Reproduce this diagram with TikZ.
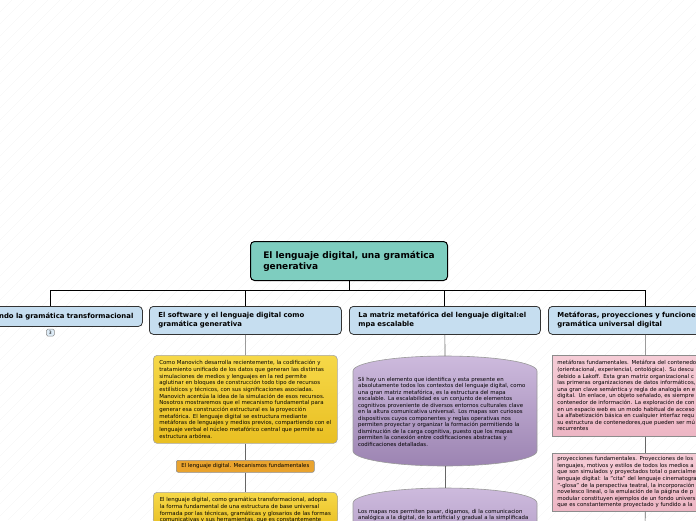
\documentclass[tikz,border=0pt]{standalone}
\usepackage{fontspec}
\setmainfont{DejaVu Sans}
\usepackage{xcolor}
\usetikzlibrary{positioning,calc}

\definecolor{rootfill}{HTML}{7ECDBF}
\definecolor{topicfill}{HTML}{C6DEF0}
\definecolor{goldtop}{HTML}{F6D848}
\definecolor{goldbot}{HTML}{E9BF22}
\definecolor{orangefill}{HTML}{E9A32E}
\definecolor{lilactop}{HTML}{CDBADD}
\definecolor{lilacbot}{HTML}{9C84B2}
\definecolor{pinktop}{HTML}{F5CCD6}
\definecolor{pinkbot}{HTML}{EDB6C4}

\begin{document}
\begin{tikzpicture}[
            x=1pt, y=-1pt,
            hatch/.style={black!6, line width=0.3pt},
            trunk/.style={black, line width=0.9pt},
            twig/.style={black!60, line width=0.6pt},
            rootbox/.style={draw=black, line width=1pt, rounded corners=4pt, fill=rootfill,
                anchor=north west, minimum width=197pt, minimum height=39pt,
                inner xsep=11pt, align=left, font=\bfseries\fontsize{9}{11}\selectfont},
            topicbox/.style={draw=black!80, line width=0.8pt, rounded corners=4pt, fill=topicfill,
                anchor=north west, minimum height=28pt, inner xsep=9pt, inner ysep=2pt,
                align=left, font=\bfseries\fontsize{6.9}{9}\selectfont},
            goldbox/.style={draw=black!35, line width=0.6pt, rounded corners=4pt,
                top color=goldtop, bottom color=goldbot, anchor=north west,
                minimum width=184pt, inner xsep=5pt, inner ysep=5pt, align=left,
                font=\fontsize{5.45}{6.7}\selectfont},
            tagbox/.style={draw=black!45, line width=0.6pt, rounded corners=2pt, fill=orangefill,
                anchor=north west, minimum width=138pt, minimum height=12pt, inner sep=1pt,
                align=center, font=\fontsize{5.4}{6}\selectfont},
            pinkbox/.style={draw=black!45, line width=0.6pt, top color=pinktop, bottom color=pinkbot,
                anchor=north west, text width=176pt, inner xsep=5pt, inner ysep=0pt, align=left,
                font=\fontsize{5.4}{6.6}\selectfont},
            drum/.style={draw=black!40, line width=0.6pt, top color=lilactop, bottom color=lilacbot},
            drumtext/.style={text width=176pt, inner sep=0pt, align=left, font=\fontsize{5.4}{6.5}\selectfont},
            badge/.style={draw=black!45, line width=0.5pt, rounded corners=1.5pt, fill=topicfill!60,
                minimum width=8pt, minimum height=7pt, inner sep=0.5pt, font=\fontsize{4.5}{5}\selectfont}
        ]

        \useasboundingbox (0,0) rectangle (696,520);
        \clip (0,0) rectangle (696,520);

        % faint background texture
        \foreach \i in {-520,-508,...,696}
            \draw[hatch] (\i,520) -- ++(520,-520);

        % central topic
        \node[rootbox] (root) at (250,241) {El lenguaje digital, una gramática\\generativa};

        % main topics
        \node[topicbox, minimum width=184pt, minimum height=20pt, text width=166pt, align=right] (gram) at (-42,306)
            {ndo la gramática transformacional};
        \node[topicbox, minimum width=192pt, text width=174pt] (soft) at (149,306)
            {El software y el lenguaje digital como\\gramática generativa};
        \node[topicbox, minimum width=191pt, text width=173pt] (matriz) at (349,306)
            {La matriz metafórica del lenguaje digital:el\\mpa escalable};
        \node[topicbox, minimum width=194pt, text width=176pt] (metaf) at (548,306)
            {Metáforas, proyecciones y funcione\\gramática universal digital};

        \node[badge, below=2pt of gram] (hidden) {3};

        % branches from the central topic
        \coordinate (bar) at (0,290);
        \draw[trunk] (root.south) -- (root.south |- bar);
        \draw[trunk] (gram.north |- bar) -- (metaf.north |- bar);
        \foreach \t in {gram,soft,matriz,metaf}
            \draw[trunk] (\t.north |- bar) -- (\t.north);

        % software column
        \node[goldbox, minimum height=84pt] (manovich) at (153,355)
            {Como Manovich desarrolla recientemente, la codificación y\\
             tratamiento unificado de los datos que generan las distintas\\
             simulaciones de medios y lenguajes en la red permite\\
             aglutinar en bloques de construcción todo tipo de recursos\\
             estilísticos y técnicos, con sus significaciones asociadas.\\
             Manovich acentúa la idea de la simulación de esos recursos.\\
             Nosotros mostraremos que el mecanismo fundamental para\\
             generar esa construcción estructural es la proyección\\
             metafórica. El lenguaje digital se estructura mediante\\
             metáforas de lenguajes y medios previos, compartiendo con el\\
             lenguaje verbal el núcleo metafórico central que permite su\\
             estructura arbórea.};
        \node[tagbox] (mecan) at (176,460) {El lenguaje digital. Mecanismos fundamentales};
        \node[goldbox] (transf) at (153,492)
            {El lenguaje digital, como gramática transformacional, adopta\\
             la forma fundamental de una estructura de base universal\\
             formada por las técnicas, gramáticas y glosarios de las formas\\
             comunicativas y sus herramientas, que es constantemente};

        \draw[twig] (soft.south) -- (manovich.north);
        \draw[twig] (manovich.south) -- (mecan.north);
        \draw[twig] (mecan.south) -- (transf.north);

        % scalable map column
        \path[drum] (353,371) arc[start angle=180, end angle=0, x radius=92, y radius=-15]
            -- (537,451) arc[start angle=0, end angle=-180, x radius=92, y radius=-15] -- cycle;
        \coordinate (drumA) at (445,356);
        \coordinate (drumAbot) at (445,466);
        \node[drumtext, anchor=north west] (mapa) at (358,377)
            {Sli hay un elemento que identifica y esta presente en\\
             absolutamente todos los contextos del lenguaje digital, como\\
             una gran matriz metafórica, es la estructura del mapa\\
             escalable. La escalabilidad es un conjunto de elementos\\
             cognitivos proveniente de diversos entornos culturales clave\\
             en la altura comunicativa universal. Los mapas son curiosos\\
             dispositivos cuyos componentes y reglas operativas nos\\
             permiten proyectar y organizar la formación permitiendo la\\
             disminución de la carga cognitiva, puesto que los mapas\\
             permiten la conexión entre codificaciones abstractas y\\
             codificaciones detalladas.};

        \path[drum] (353,503) arc[start angle=180, end angle=0, x radius=92, y radius=-15]
            -- (537,583) arc[start angle=0, end angle=-180, x radius=92, y radius=-15] -- cycle;
        \coordinate (drumB) at (445,488);
        \node[drumtext, anchor=north west, text width=180pt] (pasar) at (358,509)
            {Los mapas nos permiten pasar, digamos, di la comunicacion\\
             analógica a la digital, de lo artificial y gradual a la simplificada};

        \draw[twig] (matriz.south) -- (drumA);
        \draw[twig] (drumAbot) -- (drumB);

        % metaphors column
        \node[pinkbox, minimum height=81pt] (conten) at (552,355)
            {metáforas fundamentales. Metáfora del contenedo\\
             (orientacional, experiencial, ontológica). Su descu\\
             debido a Lakoff. Esta gran matriz organizacional c\\
             las primeras organizaciones de datos informáticos,\\
             una gran clave semántica y regla de analogía en e\\
             digital. Un enlace, un objeto señalado, es siempre\\
             contenedor de información. La exploración de con\\
             en un espacio web es un modo habitual de acceso\\
             La alfabetización básica en cualquier interfaz requ\\
             su estructura de contenedores,que pueden ser mú\\
             recurrentes};
        \node[pinkbox, minimum height=58pt] (proyec) at (552,453)
            {proyecciones fundamentales. Proyecciones de los\\
             lenguajes, motivos y estilos de todos los medios a\\
             que son simulados y proyectados total o parcialme\\
             lenguaje digital: la "cita" del lenguaje cinematogra\\
             "-glosa" de la perspectiva teatral, la incorporación\\
             novelesco lineal, o la emulación de la página de p\\
             modular constituyen ejemplos de un fondo univers\\
             que es constantemente proyectado y fundido a la};
        \coordinate (below) at (645,530);

        \draw[twig] (metaf.south) -- (conten.north);
        \draw[twig] (conten.south) -- (proyec.north);
        \draw[twig] (proyec.south) -- (below);

\end{tikzpicture}
\end{document}
